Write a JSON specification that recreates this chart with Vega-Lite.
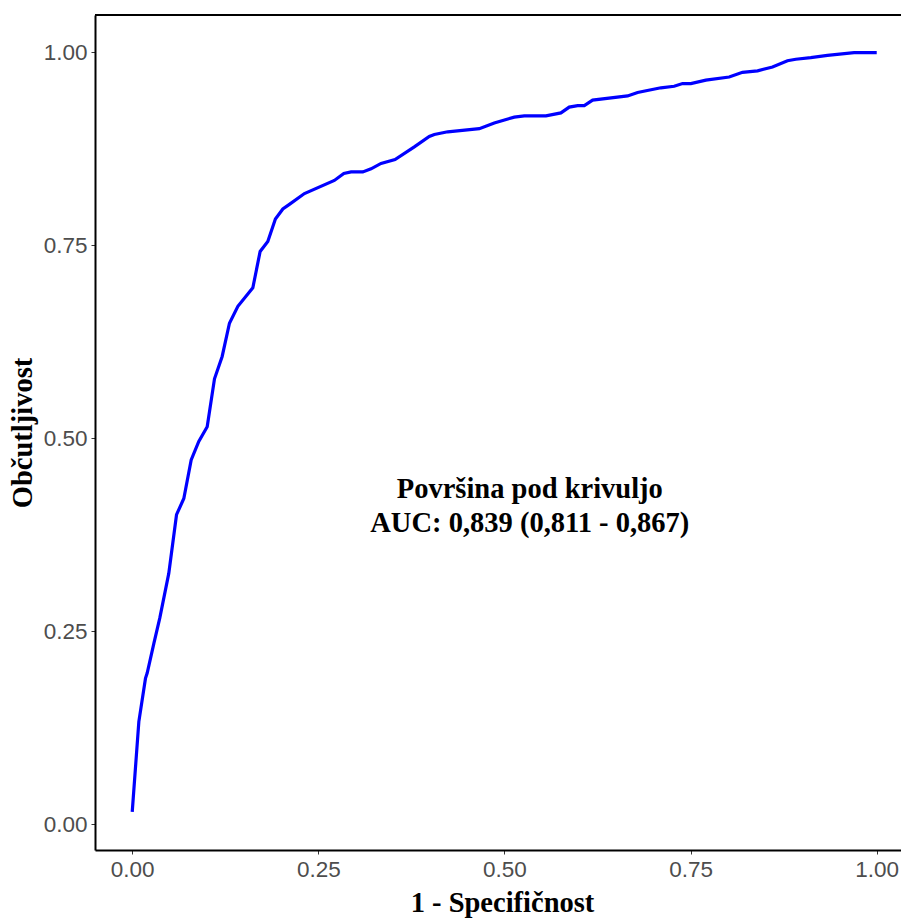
{
  "$schema": "https://vega.github.io/schema/vega-lite/v6.json",
  "autosize": {"type": "none"},
  "padding": {"left": 95, "top": 15, "right": 0, "bottom": 68},
  "width": 806,
  "height": 835,
  "background": "white",
  "config": {
    "view": {"stroke": null},
    "axis": {"grid": false}
  },
  "datasets": {
    "roc": [
      {"fpr": 0, "tpr": 0.016},
      {"fpr": 0.0089, "tpr": 0.133},
      {"fpr": 0.0178, "tpr": 0.189},
      {"fpr": 0.0201, "tpr": 0.196},
      {"fpr": 0.029, "tpr": 0.234},
      {"fpr": 0.037, "tpr": 0.267},
      {"fpr": 0.0491, "tpr": 0.325},
      {"fpr": 0.0595, "tpr": 0.401},
      {"fpr": 0.0693, "tpr": 0.422},
      {"fpr": 0.0792, "tpr": 0.472},
      {"fpr": 0.0894, "tpr": 0.496},
      {"fpr": 0.1007, "tpr": 0.515},
      {"fpr": 0.1105, "tpr": 0.577},
      {"fpr": 0.1208, "tpr": 0.606},
      {"fpr": 0.1306, "tpr": 0.649},
      {"fpr": 0.1419, "tpr": 0.671},
      {"fpr": 0.162, "tpr": 0.695},
      {"fpr": 0.1718, "tpr": 0.742},
      {"fpr": 0.1821, "tpr": 0.755},
      {"fpr": 0.1923, "tpr": 0.784},
      {"fpr": 0.2023, "tpr": 0.797},
      {"fpr": 0.2111, "tpr": 0.803},
      {"fpr": 0.2313, "tpr": 0.817},
      {"fpr": 0.2715, "tpr": 0.834},
      {"fpr": 0.2842, "tpr": 0.843},
      {"fpr": 0.294, "tpr": 0.845},
      {"fpr": 0.3097, "tpr": 0.845},
      {"fpr": 0.3208, "tpr": 0.849},
      {"fpr": 0.3342, "tpr": 0.856},
      {"fpr": 0.353, "tpr": 0.861},
      {"fpr": 0.3789, "tpr": 0.8775},
      {"fpr": 0.399, "tpr": 0.891},
      {"fpr": 0.4058, "tpr": 0.8935},
      {"fpr": 0.4238, "tpr": 0.897},
      {"fpr": 0.4662, "tpr": 0.901},
      {"fpr": 0.4863, "tpr": 0.9085},
      {"fpr": 0.5132, "tpr": 0.916},
      {"fpr": 0.5266, "tpr": 0.9176},
      {"fpr": 0.5557, "tpr": 0.9176},
      {"fpr": 0.5758, "tpr": 0.9215},
      {"fpr": 0.587, "tpr": 0.929},
      {"fpr": 0.5983, "tpr": 0.931},
      {"fpr": 0.6072, "tpr": 0.931},
      {"fpr": 0.6184, "tpr": 0.938},
      {"fpr": 0.6654, "tpr": 0.9435},
      {"fpr": 0.6788, "tpr": 0.948},
      {"fpr": 0.7101, "tpr": 0.954},
      {"fpr": 0.7279, "tpr": 0.956},
      {"fpr": 0.7392, "tpr": 0.9595},
      {"fpr": 0.7503, "tpr": 0.9595},
      {"fpr": 0.7705, "tpr": 0.964},
      {"fpr": 0.8018, "tpr": 0.968},
      {"fpr": 0.8197, "tpr": 0.974},
      {"fpr": 0.8399, "tpr": 0.976},
      {"fpr": 0.86, "tpr": 0.981},
      {"fpr": 0.8801, "tpr": 0.989},
      {"fpr": 0.8913, "tpr": 0.991},
      {"fpr": 0.9114, "tpr": 0.993},
      {"fpr": 0.9338, "tpr": 0.996},
      {"fpr": 0.9696, "tpr": 0.9995},
      {"fpr": 1.0, "tpr": 0.9995}
    ],
    "note": [
      {"label": ["Površina pod krivuljo", "AUC: 0,839 (0,811 - 0,867)"], "x": 0.534, "y": 0.4227}
    ],
    "frame": [
      {"top": 1.0483}
    ]
  },
  "layer": [
    {
      "data": {"name": "roc"},
      "mark": {"type": "line", "color": "#0000FF", "strokeWidth": 3.2, "clip": true},
      "encoding": {
        "x": {
          "field": "fpr", "type": "quantitative",
          "scale": {"domain": [-0.05, 1.0326], "nice": false, "zero": false},
          "axis": {
            "title": "1 - Specifičnost",
            "values": [0, 0.25, 0.5, 0.75, 1],
            "format": ".2f",
            "domainColor": "black", "domainWidth": 2,
            "tickColor": "#333333", "tickSize": 4, "tickWidth": 1,
            "labelColor": "#4D4D4D", "labelFont": "Liberation Sans", "labelFontSize": 22.5,
            "labelPadding": 4, "labelFlush": false,
            "titleFont": "Liberation Serif", "titleFontSize": 28.5, "titleFontWeight": "bold",
            "titleColor": "black", "titleX": 407, "titleY": 61.7,
            "titleBaseline": "alphabetic", "titleAlign": "center"
          }
        },
        "y": {
          "field": "tpr", "type": "quantitative",
          "scale": {"domain": [-0.0333, 1.0483], "nice": false, "zero": false},
          "axis": {
            "title": "Občutljivost",
            "values": [0, 0.25, 0.5, 0.75, 1],
            "format": ".2f",
            "domainColor": "black", "domainWidth": 2,
            "tickColor": "#333333", "tickSize": 4, "tickWidth": 1,
            "labelColor": "#4D4D4D", "labelFont": "Liberation Sans", "labelFontSize": 22.5,
            "labelPadding": 4, "labelFlush": false,
            "titleFont": "Liberation Serif", "titleFontSize": 28.5, "titleFontWeight": "bold",
            "titleColor": "black", "titleX": -63.5, "titleAngle": -90,
            "titleBaseline": "alphabetic", "titleAlign": "center"
          }
        }
      }
    },
    {
      "data": {"name": "frame"},
      "mark": {"type": "rule", "color": "black", "strokeWidth": 2},
      "encoding": {"y": {"field": "top", "type": "quantitative"}}
    },
    {
      "data": {"name": "note"},
      "mark": {
        "type": "text", "font": "Liberation Serif", "fontSize": 28.5, "fontWeight": "bold",
        "color": "black", "align": "center", "baseline": "alphabetic", "lineHeight": 34
      },
      "encoding": {
        "x": {"field": "x", "type": "quantitative"},
        "y": {"field": "y", "type": "quantitative"},
        "text": {"field": "label"}
      }
    }
  ]
}
